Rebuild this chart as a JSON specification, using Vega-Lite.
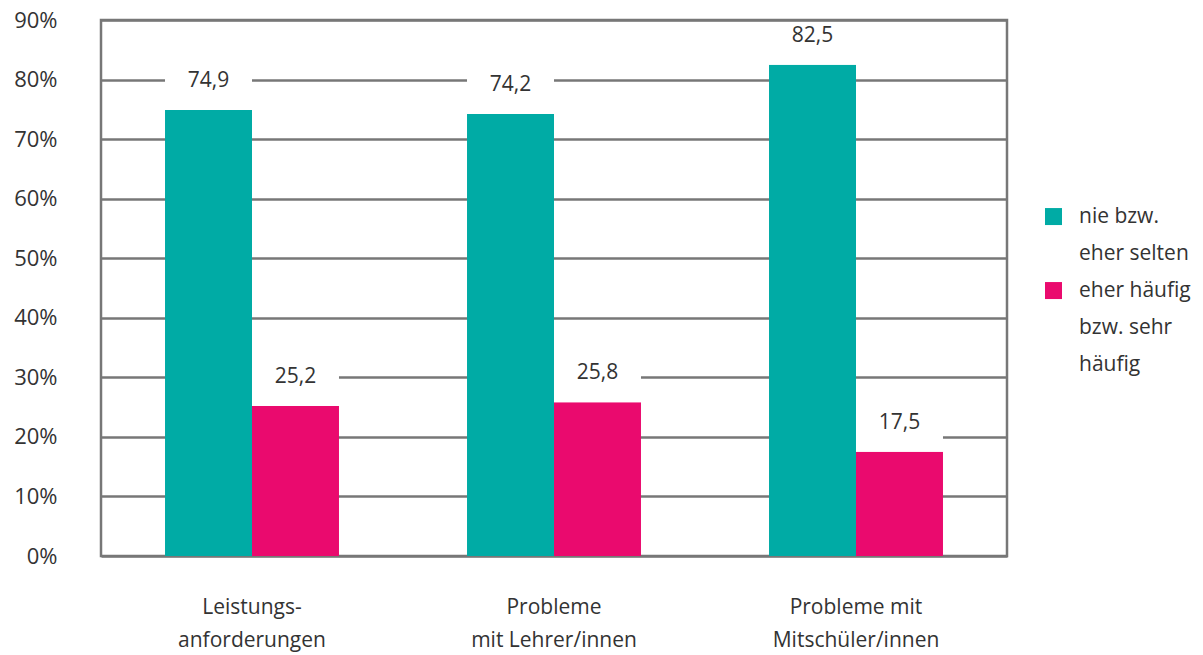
{
  "$schema": "https://vega.github.io/schema/vega-lite/v6.json",
  "width": 906,
  "height": 536,
  "autosize": {"type": "none"},
  "padding": {"left": 101, "top": 20, "right": 196, "bottom": 99},
  "background": "white",
  "config": {
    "font": "Open Sans",
    "locale": {"number": {"decimal": ",", "thousands": ".", "grouping": [3], "currency": ["", " €"]}},
    "view": {"stroke": "#777777", "strokeWidth": 2.5},
    "style": {"guide-label": {"lineHeight": 37}}
  },
  "data": {
    "values": [
      {"kat": "Leistungs-\nanforderungen", "ord": 1, "serie": "nie bzw.\neher selten", "wert": 74.9},
      {"kat": "Leistungs-\nanforderungen", "ord": 1, "serie": "eher häufig\nbzw. sehr\nhäufig", "wert": 25.2},
      {"kat": "Probleme\nmit Lehrer/innen", "ord": 2, "serie": "nie bzw.\neher selten", "wert": 74.2},
      {"kat": "Probleme\nmit Lehrer/innen", "ord": 2, "serie": "eher häufig\nbzw. sehr\nhäufig", "wert": 25.8},
      {"kat": "Probleme mit\nMitschüler/innen", "ord": 3, "serie": "nie bzw.\neher selten", "wert": 82.5},
      {"kat": "Probleme mit\nMitschüler/innen", "ord": 3, "serie": "eher häufig\nbzw. sehr\nhäufig", "wert": 17.5}
    ]
  },
  "encoding": {
    "x": {
      "field": "kat", "type": "nominal", "sort": {"field": "ord"},
      "scale": {"paddingInner": 0, "paddingOuter": 0},
      "axis": {
        "title": null, "domain": false, "ticks": false, "labelAngle": 0,
        "labelExpr": "split(datum.label, '\\n')",
        "labelFontSize": 21, "labelColor": "#333333", "labelPadding": 40,
        "labelLineHeight": 33, "labelFont": "Open Sans"
      }
    },
    "xOffset": {
      "field": "serie", "type": "nominal", "sort": ["nie bzw.\neher selten", "eher häufig\nbzw. sehr\nhäufig"],
      "scale": {"paddingOuter": 0.736, "paddingInner": 0}
    },
    "y": {
      "field": "wert", "type": "quantitative",
      "scale": {"domain": [0, 90], "nice": false},
      "axis": {
        "title": null, "domain": false, "ticks": false, "values": [0, 10, 20, 30, 40, 50, 60, 70, 80, 90],
        "labelExpr": "datum.value + '%'",
        "labelFontSize": 22, "labelColor": "#333333", "labelPadding": 44,
        "grid": true, "gridColor": "#777777", "gridWidth": 2.5
      }
    }
  },
  "layer": [
    {
      "mark": {"type": "bar"},
      "encoding": {
        "color": {
          "field": "serie", "type": "nominal",
          "sort": ["nie bzw.\neher selten", "eher häufig\nbzw. sehr\nhäufig"],
          "scale": {"range": ["#00aba5", "#ea0a6e"]},
          "legend": {
            "title": null, "orient": "none", "legendX": 942, "legendY": 192,
            "symbolType": "M-1,-1.7H1V0.3H-1Z", "symbolSize": 289, "symbolStrokeWidth": 0, "symbolOpacity": 1,
            "labelExpr": "split(datum.label, '\\n')",
            "labelFontSize": 21, "labelColor": "#333333", "labelOffset": 15,
            "labelBaseline": "alphabetic", "labelLimit": 200,
            "rowPadding": 15, "padding": 0
          }
        }
      }
    },
    {
      "mark": {"type": "tick", "color": "white", "thickness": 38, "yOffset": -19, "opacity": 1, "size": 87, "orient": "horizontal"}
    },
    {
      "mark": {"type": "text", "dy": -29, "fontSize": 21, "color": "#333333", "baseline": "middle"},
      "encoding": {"text": {"field": "wert", "type": "quantitative", "format": ".1f"}}
    }
  ]
}
